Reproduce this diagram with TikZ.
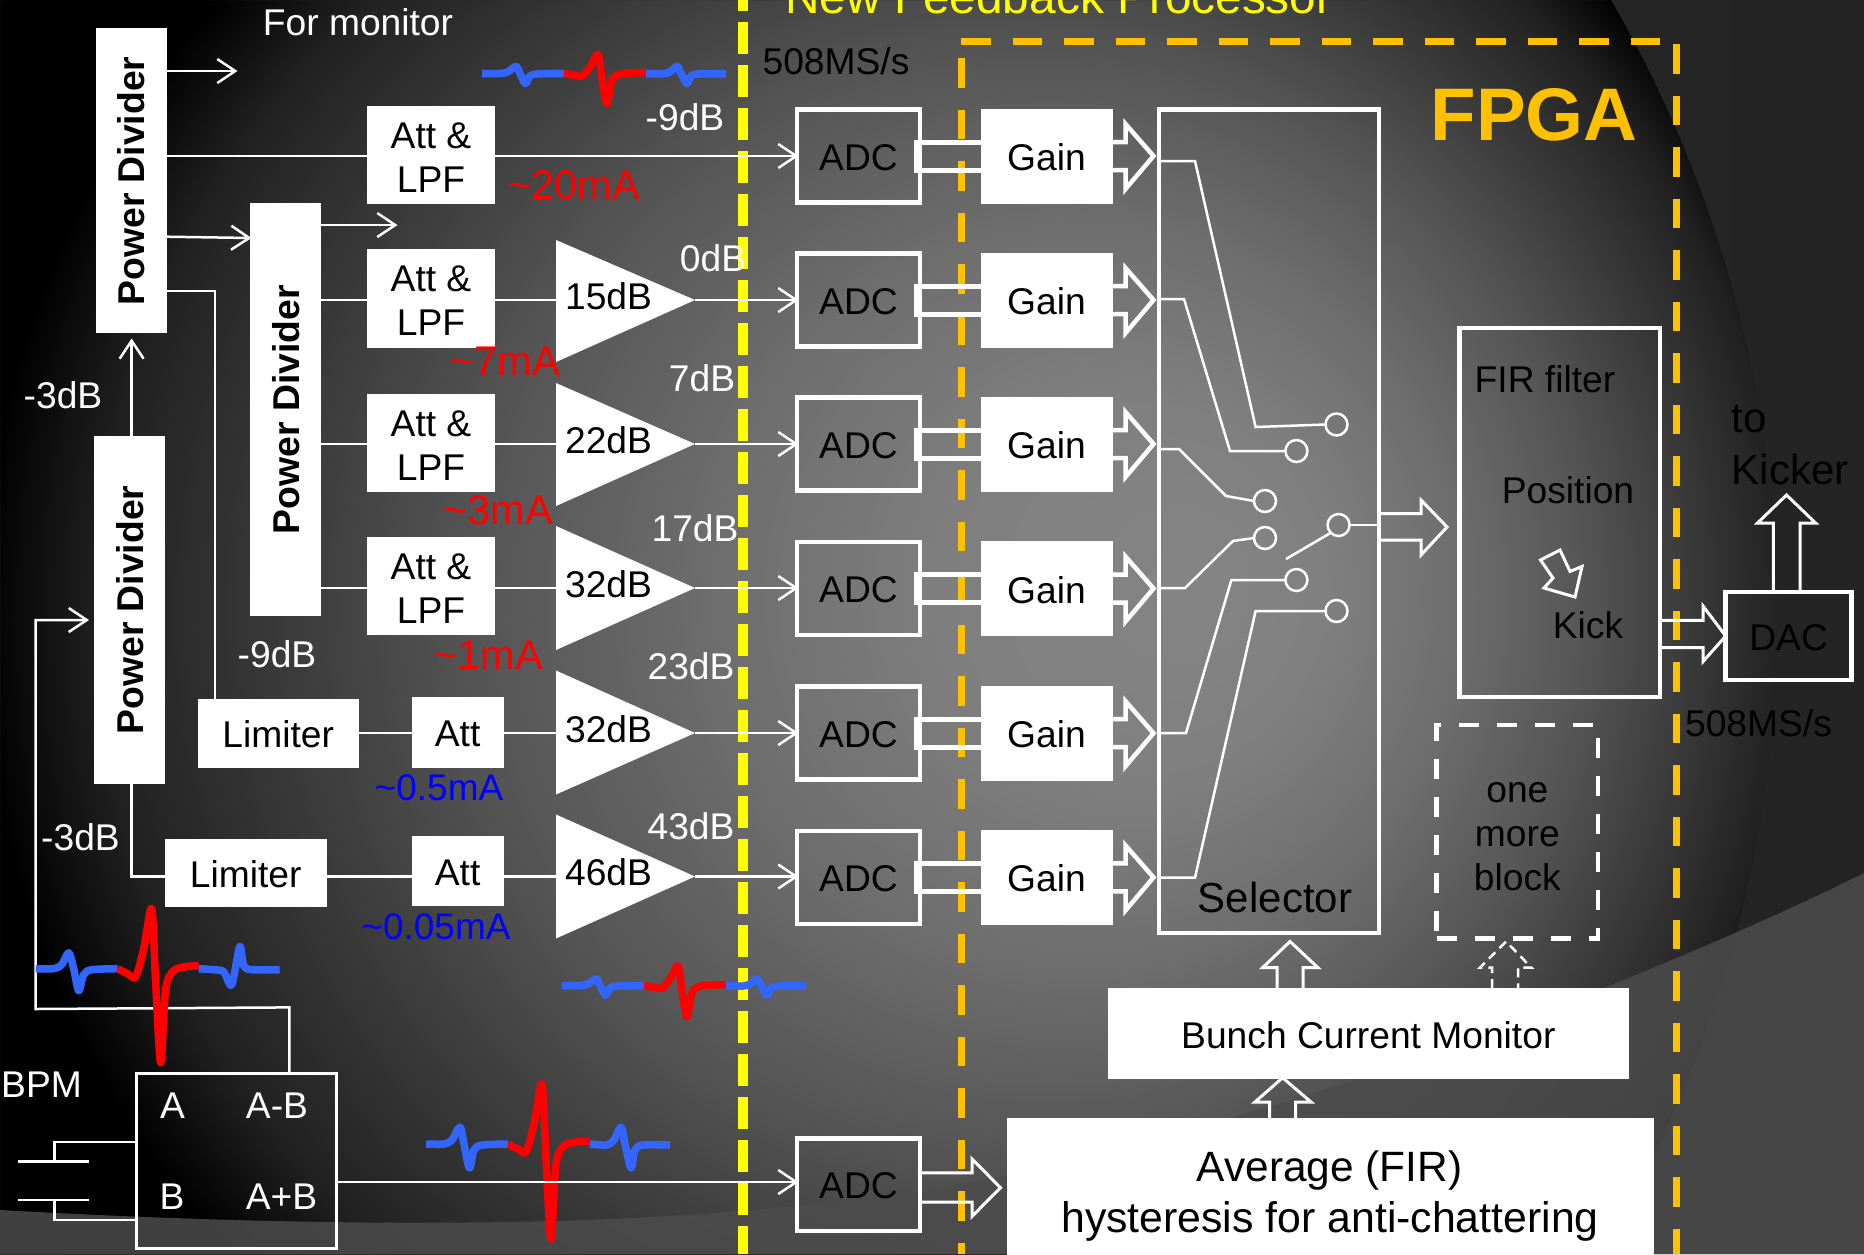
\documentclass[tikz,border=0pt]{standalone}
\usepackage{fontspec}
\setmainfont{Liberation Sans}
\usetikzlibrary{arrows.meta,calc}
\definecolor{fbyellow}{HTML}{FFFF00}
\definecolor{fborange}{HTML}{FFC000}
\definecolor{wvblue}{HTML}{3366FF}
\definecolor{wvred}{HTML}{FF0000}
\definecolor{txblue}{HTML}{0000FF}
\definecolor{bandgray}{HTML}{4C4C4C}
\pgfdeclareradialshading{bgsh}{\pgfpoint{15.24bp}{2.14bp}}{%
 color(0bp)=(black!48!white);
 color(10bp)=(black!50!white);
 color(20bp)=(black!57!white);
 color(30bp)=(black!67!white);
 color(37.5bp)=(black!77!white);
 color(45bp)=(black!87!white);
 color(50bp)=(black)}
\newcommand{\fs}[1]{\fontsize{#1}{44}\selectfont}
\newcommand{\dn}[2]{\raisebox{-#1pt}[\height][\depth]{#2}}
\newcommand{\boxn}[7]{\node[#6,minimum width={((#4)-(#2))*1pt},minimum height={((#5)-(#3))*1pt}] (#1) at ({((#2)+(#4))/2},{((#3)+(#5))/2}) {#7};}
\newcommand{\wavecore}[4]{%
 \begin{scope}[shift={(#1,#2)}]
 \draw[wvb,yscale=#4] plot[smooth] coordinates {(0,0)(18,0)(26,-4)(34,-17)(38,0)(43.4,24)(48,6)(56,1)(82,0)};
 \draw[wvr,yscale=#3] plot[smooth] coordinates {(82,0)(92,5)(100,8)(108,-20)(116,-60)(120,15)(125,95)(130,20)(138,2)(150,-2)(164,-3)};
 \end{scope}}
\newcommand{\wavethird}[3]{%
 \begin{scope}[shift={(#1,#2)}]
 \draw[wvb,yscale=#3] plot[smooth] coordinates {(164,0)(181,1)(188,-4)(195,-17)(199,0)(205,24)(209,6)(217,1)(244,1)};
 \end{scope}}
\tikzset{
 wvb/.style={draw=wvblue,line width=7.5pt,line join=round},
 wvr/.style={draw=wvred,line width=7.5pt,line join=round},
 wbox/.style={fill=white,draw=none,inner sep=0pt,outer sep=0pt,text=black,align=center,font=\fs{37.2}},
 obox/.style={draw=white,line width=4.6pt,inner sep=0pt,outer sep=0pt,text=black,align=center,font=\fs{37.2}},
 lbl/.style={inner sep=0pt,outer sep=0pt,font=\fs{37.2},text=white},
 lblk/.style={inner sep=0pt,outer sep=0pt,font=\fs{37.2},text=black},
 lred/.style={inner sep=0pt,outer sep=0pt,font=\fs{41.5},text=red},
 lblue/.style={inner sep=0pt,outer sep=0pt,font=\fs{37},text=txblue},
 wire/.style={draw=white,line width=2.5pt},
 arr/.style={draw=white,line width=2.5pt,shorten >=-1.5pt,-{Straight Barb[length=18pt,width=24pt,line width=2.5pt]}},
 tube/.style={draw=white,line width=5pt},
 gainarr/.style={draw=white,line width=4.5pt},
 blockarr/.style={draw=white,line width=3pt,line join=miter},
 swc/.style={circle,draw=white,line width=2.5pt,minimum size=22pt,inner sep=0pt,outer sep=0pt},
 yl/.style={draw=fbyellow,line width=10pt,dash pattern=on 32pt off 11pt},
 ol/.style={draw=fborange,line width=7pt,dash pattern=on 29.5pt off 22pt},
}
\begin{document}
\begin{tikzpicture}[x=1pt,y=-1pt]
\useasboundingbox (0,0) rectangle (1864,1254);
\clip (0,0) rectangle (1864,1254);
% background
\fill[black] (0,0) rectangle (1864,1254);
\node[inner sep=0pt,outer sep=0pt] (bgn) at (915,620) {\scalebox{18.63}{\pgfuseshading{bgsh}}};
\shade[even odd rule,left color=black!80!white,right color=black!86!white] (0,0) rectangle (1864,1254) (545,618) circle (1232);
\fill[bandgray,opacity=.85] (0,1210) .. controls (250,1224) and (500,1228) .. (700,1214) .. controls (820,1205) and (900,1197) .. (1000,1177) .. controls (1130,1150) and (1240,1115) .. (1360,1079) .. controls (1450,1050) and (1700,955) .. (1864,873) -- (1864,1254) -- (0,1254) -- cycle;
% dashed separators
\draw[yl] (743,-21.4) -- (743,1254);
\draw[ol] (961,58) -- (961,1254);
\draw[ol] (961,41) -- (1672,41);
\draw[ol] (1676,44) -- (1676,1254);
% waves
\wavecore{482}{73.5}{.32}{.42}\wavethird{482}{73.5}{.42}
\wavecore{562}{985.6}{.33}{.40}\wavethird{562}{985.6}{.40}
\wavecore{426}{1144}{1}{1}\wavethird{426}{1144}{1}
% titles
\node[inner sep=0pt,anchor=base west,font=\fs{47.8},text=fbyellow] (title) at (785,13) {New Feedback Processor};
\node[inner sep=0pt,font=\fs{74.5}\bfseries,text=fborange] (fpga) at (1534,114.5) {FPGA};
% power dividers
\boxn{pda}{96}{28}{167}{333}{wbox}{}
\boxn{pdb}{250}{203}{321}{616}{wbox}{}
\boxn{pdc}{94}{436}{165}{783.5}{wbox}{}
\node[lblk,rotate=90,font=\fs{37.3}\bfseries] (pdat) at (131.5,181) {Power Divider};
\node[lblk,rotate=90,font=\fs{37.3}\bfseries] (pdbt) at (286,409.7) {Power Divider};
\node[lblk,rotate=90,font=\fs{37.3}\bfseries] (pdct) at (130,610) {Power Divider};
% att boxes
\boxn{ata}{367}{106}{495}{204}{wbox}{\dn{2.4}{Att \&}\\\dn{2.4}{LPF}}
\boxn{atb}{367}{249}{495}{348}{wbox}{\dn{2.4}{Att \&}\\\dn{2.4}{LPF}}
\boxn{atc}{367}{393.5}{495}{492}{wbox}{\dn{2.4}{Att \&}\\\dn{2.4}{LPF}}
\boxn{atd}{367}{537}{495}{635}{wbox}{\dn{2.4}{Att \&}\\\dn{2.4}{LPF}}
\boxn{lima}{197.5}{699}{359}{767.5}{wbox}{\dn{1}{Limiter}}
\boxn{limb}{165}{839}{326.5}{907}{wbox}{\dn{1}{Limiter}}
\boxn{ate}{411.7}{697.3}{503.6}{767.5}{wbox}{\dn{1.2}{Att}}
\boxn{atf}{411.7}{836}{503.6}{906}{wbox}{\dn{2}{Att}}
% amplifiers
\foreach \n/\t/\y/\b/\g in {1/240/300/362/15dB,2/383/444/506/22dB,3/526/588/650/32dB,4/670.5/733/794.5/32dB,5/814.5/876.5/938.5/46dB}{
 \fill[white] (556,\t) -- (695,\y) -- (556,\b) -- cycle;
 \coordinate (ampin\n) at (556,\y);
 \coordinate (ampout\n) at (695,\y);
 \node[lblk] (ampt\n) at (608.5,\y-4) {\g};
}
% ADC, gain
\foreach \i/\y in {1/156,2/300,3/444,4/588.5,5/733.2,6/877.4}{
 \boxn{adc\i}{797}{\y-46.5}{920}{\y+46.5}{obox}{\dn{1.2}{ADC}}
 \boxn{gain\i}{980.5}{\y-47.5}{1112.5}{\y+47.5}{wbox}{\dn{1.2}{Gain}}
 \draw[tube] ([yshift=14pt]gain\i.west) -- ([yshift=14pt,xshift=-4pt]adc\i.east) -- ([yshift=-14pt,xshift=-4pt]adc\i.east) -- ([yshift=-14pt]gain\i.west);
 \draw[gainarr] ([yshift=14pt]gain\i.east) -- ++(13,0) -- ++(0,-18) -- ++(28,32) -- ++(-28,33) -- ++(0,-19) -- ++(-13,0);
}
\boxn{adc7}{797}{1138.6}{920}{1230.8}{obox}{\dn{1.2}{ADC}}
% selector
\boxn{sel}{1159}{109.5}{1379}{933}{obox}{}
\node[lblk,font=\fs{42}] (selt) at (1275,897.4) {Selector};
\node[swc] (c1) at (1336.5,424.5) {};
\node[swc] (c2) at (1296.4,451) {};
\node[swc] (c3) at (1265,501) {};
\node[swc] (c4) at (1265,538) {};
\node[swc] (c5) at (1296.4,580) {};
\node[swc] (c6) at (1336.5,611) {};
\node[swc] (cs) at (1338.6,525) {};
\coordinate (swend) at (1286,559);
\draw[wire] (sel.west |- 0,161) -- (1195,161) -- (1255.6,427) -- (c1.west);
\draw[wire] (sel.west |- 0,299) -- (1184,299) -- (1230,451) -- (c2.west);
\draw[wire] (sel.west |- 0,449) -- (1179,449) -- (1226,496) -- (c3.west);
\draw[wire] (sel.west |- 0,588) -- (1185,588) -- (1233,541) -- (c4.west);
\draw[wire] (sel.west |- 0,733) -- (1186,733) -- (1231.4,580) -- (c5.west);
\draw[wire] (sel.west |- 0,877.6) -- (1195,877.6) -- (1255.6,611) -- (c6.west);
\draw[wire] (cs.south west) -- (swend);
\draw[wire] (cs.east) -- (sel.east |- cs.east);
% FIR
\boxn{fir}{1459.6}{328}{1660}{697}{obox}{}
\node[lblk] (firt) at (1545,379) {FIR filter};
\node[lblk] (pos) at (1568,490) {Position};
\node[lblk] (kick) at (1588,625) {Kick};
\draw[blockarr] (1560,550) -- (1540.5,560) -- (1553,578) -- (1544,588) -- (1575,597) -- (1582,566.5) -- (1570,571.4) -- cycle;
% DAC
\boxn{dac}{1725.7}{592}{1851.5}{680}{obox}{\dn{1.2}{DAC}}
\node[lblk,font=\fs{42}] (tok) at (1749,419) {to};
\node[lblk,font=\fs{42}] (kicker) at (1790,469) {Kicker};
\node[lblk] (msb) at (1758.5,723) {508MS/s};
\node[lblk] (msa) at (836,61) {508MS/s};
% block arrows
\draw[blockarr] (1380,513.5) -- (1421,513.5) -- (1421,500) -- (1447,527) -- (1421,555) -- (1421,540) -- (1380,540);
\draw[blockarr] (fir.east |- 0,620.4) -- (1703,620.4) -- (1703,606) -- (dac.west) -- (1703,661.6) -- (1703,647.7) -- (fir.east |- 0,647.7);
\draw[blockarr] (1773.4,592) -- (1773.4,523) -- (1757.5,523) -- (1786.5,495) -- (1815.6,523) -- (1800,523) -- (1800,592);
% one more block
\boxn{omb}{1436.7}{725}{1598}{938.6}{obox,dash pattern=on 20pt off 18pt}{\dn{5}{one}\\\dn{5}{more}\\\dn{5}{block}}
% bunch current, average
\boxn{bcm}{1107.7}{988}{1629}{1079}{wbox}{\dn{1.5}{Bunch Current Monitor}}
\boxn{avg}{1006.8}{1118}{1653.8}{1330}{wbox}{}
\node[lblk,font=\fs{42.4}] (avgt) at (1329.6,1171) {Average (FIR)};
\node[lblk,font=\fs{42.8}] (hyst) at (1330,1221) {hysteresis for anti-chattering};
\draw[blockarr] (1277,988) -- (1277,967.7) -- (1262.5,967.7) -- (1290,941.5) -- (1318,967.7) -- (1303,967.7) -- (1303,988);
\draw[blockarr,dash pattern=on 9pt off 6pt,line width=2.5pt] (1492,988) -- (1492,967.7) -- (1480,967.7) -- (1506,941.5) -- (1531.5,967.7) -- (1518,967.7) -- (1518,988);
\draw[blockarr] (1269.5,1118) -- (1269.5,1102) -- (1255,1102) -- (1282.6,1077.7) -- (1311,1102) -- (1295.7,1102) -- (1295.7,1118);
\draw[blockarr] (adc7.east |- 0,1172.8) -- (972,1172.8) -- (972,1159) -- (1000.5,1187.7) -- (972,1216.4) -- (972,1202) -- (adc7.east |- 0,1202);
% BPM
\boxn{bpm}{136}{1073}{336.7}{1248.6}{obox,line width=3pt}{}
\node[lbl] (bpmt) at (41.5,1084.6) {BPM};
\node[lbl] (pa) at (172.5,1105.4) {A};
\node[lbl] (pab) at (277,1105.4) {A-B};
\node[lbl] (pb) at (172,1196.6) {B};
\node[lbl] (papb) at (281.5,1196.6) {A+B};
\coordinate (pla) at (18,1161.5);
\coordinate (plb) at (89,1161.5);
\coordinate (plc) at (18,1200);
\coordinate (pld) at (89,1200);
\draw[wire] (pla) -- (plb);
\draw[wire] (plc) -- (pld);
\draw[wire] (54.6,1161.5) -- (54.6,1142) -- (bpm.west |- 0,1142);
\draw[wire] (54.6,1200) -- (54.6,1220) -- (bpm.west |- 0,1220);
% connectors
\coordinate (mona) at (236,71);
\coordinate (monb) at (396,225);
\draw[arr] (pda.east |- mona) -- (mona);
\draw[wire] (pda.east |- adc1.west) -- (ata.west |- adc1.west);
\draw[arr] (ata.east |- adc1.west) -- (adc1.west);
\draw[arr] (pda.east |- 0,236.7) -- (pdb.west |- 0,238);
\draw[arr] (pdb.east |- monb) -- (monb);
\draw[wire] (pda.east |- 0,291) -- (215,291) -- (215,699);
\draw[arr] (131.6,436) -- (131.6,340);
\draw[wire] (pdb.east |- ampin1) -- (atb.west |- ampin1);
\draw[wire] (pdb.east |- ampin2) -- (atc.west |- ampin2);
\draw[wire] (pdb.east |- ampin3) -- (atd.west |- ampin3);
\draw[wire] (atb.east |- ampin1) -- (ampin1);
\draw[wire] (atc.east |- ampin2) -- (ampin2);
\draw[wire] (atd.east |- ampin3) -- (ampin3);
\draw[wire] (lima.east |- ampin4) -- (ate.west |- ampin4);
\draw[wire] (ate.east |- ampin4) -- (ampin4);
\draw[wire] (131.6,783) -- (131.6,876.5) -- (limb.west |- ampin5);
\draw[wire] (limb.east |- ampin5) -- (atf.west |- ampin5);
\draw[wire] (atf.east |- ampin5) -- (ampin5);
\draw[arr] (ampout1) -- (adc2.west |- ampout1);
\draw[arr] (ampout2) -- (adc3.west |- ampout2);
\draw[arr] (ampout3) -- (adc4.west |- ampout3);
\draw[arr] (ampout4) -- (adc5.west |- ampout4);
\draw[arr] (ampout5) -- (adc6.west |- ampout5);
\coordinate (fbtip) at (87.5,620);
\draw[arr] (289.3,1073) -- (289.3,1007.4) -- (35.7,1009) -- (35.7,620) -- (fbtip);
\draw[arr] (bpm.east |- 0,1182) -- (adc7.west |- 0,1182);
% big wave on top of the wire
\begin{scope}[shift={(35.7,968.7)}]
 \draw[wvb] plot[smooth] coordinates {(0,0)(18,0)(26,-4)(33,-16)(38,0)(43,22)(48,6)(56,1)(82,0)};
 \draw[wvr] plot[smooth] coordinates {(82,0)(92,5)(100,8)(108,-20)(116,-60)(120,15)(125,94)(130,20)(138,2)(150,-2)(163,-3)};
 \draw[wvb] plot[smooth] coordinates {(163,0)(178,1)(188,3)(196,16)(204,-22)(208,-3)(216,1)(244,1)};
\end{scope}
% labels
\node[lbl] (la) at (685,117.5) {-9dB};
\node[lbl] (lb) at (713,258) {0dB};
\node[lbl] (lc) at (702,378.5) {7dB};
\node[lbl] (ld) at (695,528) {17dB};
\node[lbl] (le) at (691,666.6) {23dB};
\node[lbl] (lf) at (691,826) {43dB};
\node[lbl] (lg) at (63,395.5) {-3dB};
\node[lbl] (lh) at (277,654.4) {-9dB};
\node[lbl] (li) at (80.5,837.5) {-3dB};
\node[lbl] (lj) at (358,22.4) {For monitor};
\node[lred] (ra) at (573.5,185) {\textasciitilde20mA};
\node[lred] (rb) at (505,361) {\textasciitilde7mA};
\node[lred] (rc) at (498,510) {\textasciitilde3mA};
\node[lred] (rd) at (488,655.4) {\textasciitilde1mA};
\node[lblue] (ba) at (439,787.8) {\textasciitilde0.5mA};
\node[lblue] (bb) at (436,927) {\textasciitilde0.05mA};
\end{tikzpicture}
\end{document}
